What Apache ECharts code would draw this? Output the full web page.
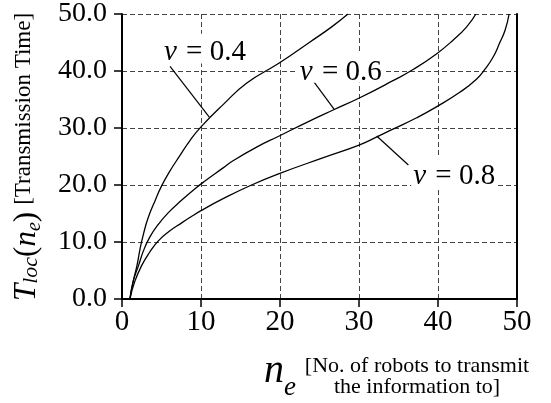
<!DOCTYPE html>
<html>
<head>
<meta charset="utf-8">
<script src="https://cdn.jsdelivr.net/npm/echarts@6/dist/echarts.min.js"></script>
<style>
html,body{margin:0;padding:0;background:#fff;}
#chart{width:551px;height:403px;}
</style>
</head>
<body>
<div id="chart"></div>
<script>
// ---- Data ----
const xTicks = [0, 10, 20, 30, 40, 50];
const yTicks = [0.0, 10.0, 20.0, 30.0, 40.0, 50.0];

const nV04 = [1, 1.4, 1.9, 2.3, 2.7, 3.3, 4.2, 5, 6, 7.3, 8.6, 10, 12.8, 15.8, 19.9, 23.8, 26.5, 28.6];
const tV04 = [0, 3.0, 5.9, 8.9, 11.3, 14.2, 17.3, 19.8, 22.3, 25.1, 27.8, 30.2, 34.1, 37.9, 41.4, 45.1, 47.7, 50];

const nV06 = [1, 1.4, 2.1, 2.7, 3.5, 4.6, 5.9, 7.6, 9.2, 10.5, 12.8, 14.1, 17.1, 19.9, 23.4, 26.8, 30.1, 34.3, 36.9, 39.8, 41.9, 43.6, 44.8];
const tV06 = [0, 3.0, 5.9, 8.4, 10.8, 13.1, 15.2, 17.4, 19.3, 20.7, 23.0, 24.3, 26.7, 28.6, 31.0, 33.2, 35.3, 38.3, 40.3, 43.0, 45.4, 47.7, 50];

const nV08 = [1, 1.6, 2.5, 3.5, 4.6, 5.9, 7.6, 8.6, 10, 12.8, 16.4, 19.9, 25.5, 30, 32.2, 34.3, 37.3, 39.8, 42.8, 44.9, 46, 47, 47.8, 48.5, 49];
const tV08 = [0, 3.0, 5.9, 8.2, 10.2, 11.8, 13.4, 14.3, 15.5, 17.6, 20.0, 22.0, 24.8, 27.0, 28.4, 29.8, 31.8, 33.7, 36.3, 38.6, 40.4, 42.5, 44.9, 47.2, 50];

const seriesNames = ['0.4', '0.6', '0.8'];
// annotation label centres and leader lines, in data units [n, T]
const labelAt = [[10.5, 43.4], [27.7, 40.0], [42.05, 21.7]];
const leaderFrom = [[6.08, 40.8], [23.8, 39.0], [32.24, 28.6]];
const leaderTo = [[11.05, 31.9], [26.84, 33.3], [36.25, 23.5]];

// ---- helpers ----
const FONT = "Liberation Serif";
const ctx = document.createElement('canvas').getContext('2d');
function fontStr(p) { return (p.it ? 'italic ' : '') + p.size + 'px "' + FONT + '"'; }
function measure(p) { ctx.font = fontStr(p); return ctx.measureText(p.t).width; }
function run(parts, x0, baseline) {
  let cx = x0; const kids = [];
  parts.forEach(p => {
    kids.push({
      type: 'text', z: 100,
      style: {
        text: p.t, x: cx, y: baseline + (p.dy || 0) - 0.305 * p.size,
        font: fontStr(p), fill: '#000', textAlign: 'left', textVerticalAlign: 'middle'
      }
    });
    cx += measure(p) + (p.gap || 0);
  });
  return { kids, width: cx - x0 };
}
function zip(a, b) { return a.map((v, i) => [v, b[i]]); }

const chart = echarts.init(document.getElementById('chart'), null, { renderer: 'canvas' });
const dataSets = [zip(nV04, tV04), zip(nV06, tV06), zip(nV08, tV08)];

const gridDash = { color: '#444', width: 1, type: [5, 3] };

chart.setOption({
  animation: false,
  backgroundColor: '#fff',
  textStyle: { fontFamily: FONT },
  grid: { left: 122, right: 34, top: 14, bottom: 104, containLabel: false },
  xAxis: {
    type: 'value', min: xTicks[0], max: xTicks[xTicks.length - 1], interval: 10,
    axisLine: { show: true, onZero: false, lineStyle: { color: '#000', width: 2 } },
    axisTick: { show: true, length: 8, lineStyle: { color: '#000', width: 1.5 } },
    axisLabel: { fontFamily: FONT, fontSize: 29, color: '#000', margin: 9,
      formatter: v => String(v) },
    splitLine: { show: true, lineStyle: gridDash }
  },
  yAxis: [{
    type: 'value', min: yTicks[0], max: yTicks[yTicks.length - 1], interval: 10,
    axisLine: { show: true, onZero: false, lineStyle: { color: '#000', width: 2 } },
    axisTick: { show: true, length: 8, lineStyle: { color: '#000', width: 1.5 } },
    axisLabel: { fontFamily: FONT, fontSize: 28, color: '#000', margin: 15,
      formatter: v => v.toFixed(1) },
    splitLine: { show: true, lineStyle: gridDash }
  }, {
    type: 'value', position: 'right', min: 0, max: 50, interval: 10,
    axisLine: { show: true, onZero: false, lineStyle: { color: '#000', width: 2 } },
    axisTick: { show: false }, axisLabel: { show: false }, splitLine: { show: false }
  }],
  series: dataSets.map((d, i) => ({
    name: 'v = ' + seriesNames[i],
    type: 'line', data: d, showSymbol: false, symbol: 'none',
    smooth: 0.5, z: 5,
    lineStyle: { color: '#000', width: 1.3 },
    markLine: {
      silent: true, symbol: ['none', 'none'], animation: false,
      label: { show: false },
      lineStyle: { color: '#000', width: 1.2, type: 'solid' },
      data: [[{ coord: leaderFrom[i] }, { coord: leaderTo[i] }]]
    }
  }))
});

// ---- titles and annotation labels ----
const graphics = [];

// Y axis title (rotated)
{
  const parts = [
    { t: 'T', it: true, size: 31 },
    { t: 'loc', it: true, size: 22, dy: 1 },
    { t: '(', size: 31 },
    { t: 'n', it: true, size: 31 },
    { t: 'e', it: true, size: 20, dy: 4 },
    { t: ')', size: 31, gap: 7 },
    { t: '[Transmission Time]', size: 23, dy: -6 }
  ];
  const r = run(parts, 0, 0);
  graphics.push({ type: 'group', x: 36.5, y: 301, rotation: Math.PI / 2, children: r.kids });
}
// X axis title
{
  const r1 = run([{ t: 'n', it: true, size: 40 }, { t: 'e', it: true, size: 27, dy: 13 }], 264, 383.5);
  r1.kids.forEach(k => graphics.push(k));
  const l1 = '[No. of robots to transmit', l2 = 'the information to]';
  graphics.push({ type: 'text', z: 100, style: { text: l1, x: 417, y: 372.5 - 0.305 * 22, font: '22px "' + FONT + '"', fill: '#000', textAlign: 'center', textVerticalAlign: 'middle' } });
  graphics.push({ type: 'text', z: 100, style: { text: l2, x: 417, y: 393.5 - 0.305 * 22, font: '22px "' + FONT + '"', fill: '#000', textAlign: 'center', textVerticalAlign: 'middle' } });
}
// curve labels
seriesNames.forEach((nm, i) => {
  const c = chart.convertToPixel({ gridIndex: 0 }, labelAt[i]);
  const size = 29;
  const parts = [{ t: 'v', it: true, size: size, gap: 2 }, { t: ' = ' + nm, size: size }];
  const w = run(parts, 0, 0).width;
  const x0 = c[0] - w / 2;
  const base = c[1] + 0.338 * size;
  graphics.push({ type: 'rect', z: 99, shape: { x: x0 - 2, y: base - 0.95 * size, width: w + 4, height: 1.02 * size }, style: { fill: '#fff' } });
  run(parts, x0, base).kids.forEach(k => graphics.push(k));
});

chart.setOption({ graphic: graphics });
</script>
</body>
</html>
